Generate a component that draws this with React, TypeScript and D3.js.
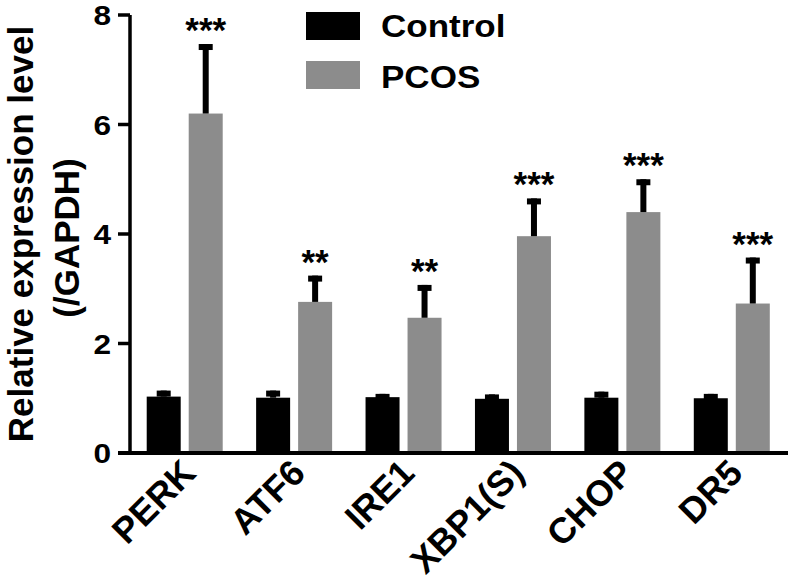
import React from "react";
import * as d3 from "d3";

const genes = ["PERK", "ATF6", "IRE1", "XBP1(S)", "CHOP", "DR5"];
const groups = ["Control", "PCOS"];
const controlMean = [1.03, 1.01, 1.02, 0.99, 1.01, 1.0];
const controlSD = [0.11, 0.13, 0.06, 0.08, 0.11, 0.08];
const pcosMean = [6.2, 2.76, 2.47, 3.96, 4.4, 2.73];
const pcosSD = [1.27, 0.48, 0.6, 0.69, 0.6, 0.84];
const significance = ["***", "**", "**", "***", "***", "***"];
const yTicks = [0, 2, 4, 6, 8];

const W = 793;
const H = 584;
const FONT = "'Liberation Sans', Arial, Helvetica, sans-serif";
const SX = 1.13;
const colors: Record<string, string> = { Control: "#000000", PCOS: "#8c8c8c" };

export default function App() {
  const y = d3.scaleLinear().domain([0, 8]).range([453, 15]);
  const x0 = d3.scaleBand<string>().domain(genes).range([130, 786.5]).padding(0);
  const x1 = d3
    .scaleBand<string>()
    .domain(groups)
    .range([0, 76])
    .paddingInner(8 / 42)
    .paddingOuter(0);
  const groupOffset = (x0.bandwidth() - 76) / 2;

  const series = [
    { name: "Control", mean: controlMean, sd: controlSD },
    { name: "PCOS", mean: pcosMean, sd: pcosSD },
  ];

  return (
    <svg
      width={W}
      height={H}
      viewBox={`0 0 ${W} ${H}`}
      style={{ position: "absolute", left: 0, top: 0, background: "#fff" }}
      fontFamily={FONT}
      fontWeight="bold"
    >
      {/* bars */}
      {series.map((s) =>
        genes.map((g, i) => {
          const bx = x0(g)! + groupOffset + x1(s.name)!;
          const bw = x1.bandwidth();
          const cx = bx + bw / 2;
          const top = y(s.mean[i]);
          const hi = y(s.mean[i] + s.sd[i]);
          return (
            <g key={s.name + g}>
              <rect x={bx} y={top} width={bw} height={y(0) - top} fill={colors[s.name]} />
              <rect x={cx - 3} y={hi} width={6} height={top - hi} fill="#000" />
              <rect x={cx - 7} y={hi} width={14} height={6} fill="#000" />
            </g>
          );
        })
      )}

      {/* significance */}
      {genes.map((g, i) => {
        const cx = x0(g)! + groupOffset + x1("PCOS")! + x1.bandwidth() / 2;
        const hi = y(pcosMean[i] + pcosSD[i]);
        return (
          <text
            key={"sig" + g}
            x={cx}
            y={hi - 2}
            textAnchor="middle"
            fontSize={35}
            fill="#000"
          >
            {significance[i]}
          </text>
        );
      })}

      {/* y axis */}
      <line x1={130} x2={130} y1={y(8)} y2={y(0)} stroke="#000" strokeWidth={3.5} />
      {yTicks.map((t) => (
        <g key={"yt" + t}>
          <line x1={118} x2={130} y1={y(t)} y2={y(t)} stroke="#000" strokeWidth={3.5} />
          <text
            transform={`translate(111 ${y(t)}) scale(${SX} 1)`}
            dy="0.36em"
            textAnchor="end"
            fontSize={28}
            fill="#000"
          >
            {t}
          </text>
        </g>
      ))}

      {/* x axis */}
      <line x1={118} x2={788} y1={y(0)} y2={y(0)} stroke="#000" strokeWidth={4} />
      {genes.map((g) => {
        const cx = x0(g)! + x0.bandwidth() / 2;
        const px = cx + 13;
        const py = 475;
        return (
          <text
            key={"xl" + g}
            x={px}
            y={py}
            textAnchor="end"
            fontSize={36}
            fill="#000"
            transform={`rotate(-45 ${px} ${py})`}
          >
            {g}
          </text>
        );
      })}

      {/* y title */}
      <text
        transform="translate(33 234) rotate(-90)"
        textAnchor="middle"
        fontSize={35}
        fill="#000"
      >
        Relative expression level
      </text>
      <text
        transform="translate(79 238) rotate(-90)"
        textAnchor="middle"
        fontSize={35}
        fill="#000"
      >
        (/GAPDH)
      </text>

      {/* legend */}
      {groups.map((gname, i) => (
        <g key={"lg" + gname}>
          <rect x={306} y={12 + i * 49} width={54} height={28} fill={colors[gname]} />
          <text
            transform={`translate(381 ${37 + i * 51}) scale(${SX} 1)`}
            fontSize={31}
            fill="#000"
          >
            {gname}
          </text>
        </g>
      ))}
    </svg>
  );
}
